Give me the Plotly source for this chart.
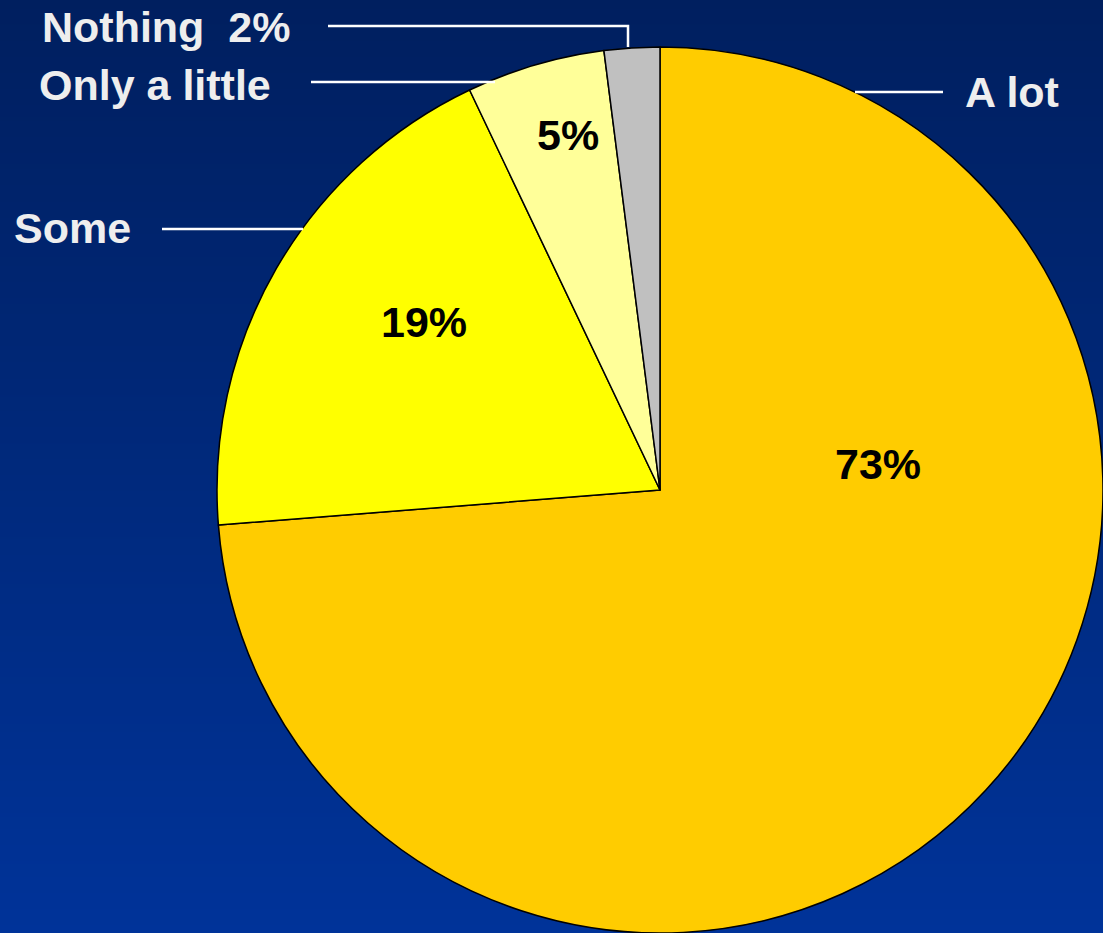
import plotly.graph_objects as go

# ---- data ----
categories = ["A lot", "Some", "Only a little", "Nothing"]
values = [73, 19, 5, 2]
slice_colors = ["#FFCC00", "#FFFF00", "#FFFF99", "#C0C0C0"]
inside_labels = ["73%", "19%", "5%", ""]
outside_labels = ["A lot", "Some", "Only a little", "Nothing\u00a0 2%"]

W, H = 1103, 933


def px(x, y):
    return x / W, 1 - y / H


fig = go.Figure()

# background vertical gradient
fig.add_trace(go.Heatmap(
    z=[[0, 0], [1, 1]], x=[0, 1], y=[0, 1],
    colorscale=[[0, "#003399"], [1, "#001F5F"]],
    zsmooth="best", showscale=False, hoverinfo="skip",
    xaxis="x", yaxis="y",
))

fig.add_trace(go.Pie(
    labels=categories, values=values, sort=False, direction="clockwise",
    rotation=0, textinfo="none", hoverinfo="label+percent",
    marker=dict(colors=slice_colors, line=dict(color="#000000", width=1.5)),
    domain=dict(x=[217 / W, 1], y=[0, 1 - 47 / H]),
    showlegend=False,
))

font_out = dict(family="Liberation Sans, Arial, sans-serif", size=43, color="#EEEEEE", weight="bold")
font_in = dict(family="Liberation Sans, Arial, sans-serif", size=43, color="#000000", weight="bold")

annotations = []
# outside labels (left x, center y in pixels)
out_pos = [(963, 92), (12, 228), (37, 85), (40, 27)]
for lab, (x, y) in zip(outside_labels, out_pos):
    xp, yp = px(x, y)
    annotations.append(dict(text=lab, x=xp, y=yp, xref="paper", yref="paper",
                            xanchor="left", yanchor="middle", showarrow=False, font=font_out))
in_pos = [(878, 464), (424, 322), (568, 135)]
for lab, (x, y) in zip(inside_labels, in_pos):
    xp, yp = px(x, y)
    annotations.append(dict(text=lab, x=xp, y=yp, xref="paper", yref="paper",
                            xanchor="center", yanchor="middle", showarrow=False, font=font_in))

# leader lines
leaders = [
    [(855, 92), (943, 92)],
    [(162, 229), (303, 229)],
    [(311, 82), (495, 82)],
    [(328, 26), (628, 26), (628, 47)],
]
shapes = []
for pts in leaders:
    pp = [px(x, y) for x, y in pts]
    path = "M " + " L ".join(f"{a:.5f},{b:.5f}" for a, b in pp)
    shapes.append(dict(type="path", path=path, xref="paper", yref="paper",
                       line=dict(color="#FFFFFF", width=2.5)))

fig.update_layout(
    width=W, height=H, autosize=False,
    margin=dict(l=0, r=0, t=0, b=0),
    paper_bgcolor="#002A7A", plot_bgcolor="rgba(0,0,0,0)",
    xaxis=dict(domain=[0, 1], range=[0, 1], visible=False, fixedrange=True),
    yaxis=dict(domain=[0, 1], range=[0, 1], visible=False, fixedrange=True),
    annotations=annotations, shapes=shapes,
)

fig.write_html("out.html", config={"displayModeBar": False},
               post_script="document.body.style.margin='0';document.body.style.overflow='hidden';")
